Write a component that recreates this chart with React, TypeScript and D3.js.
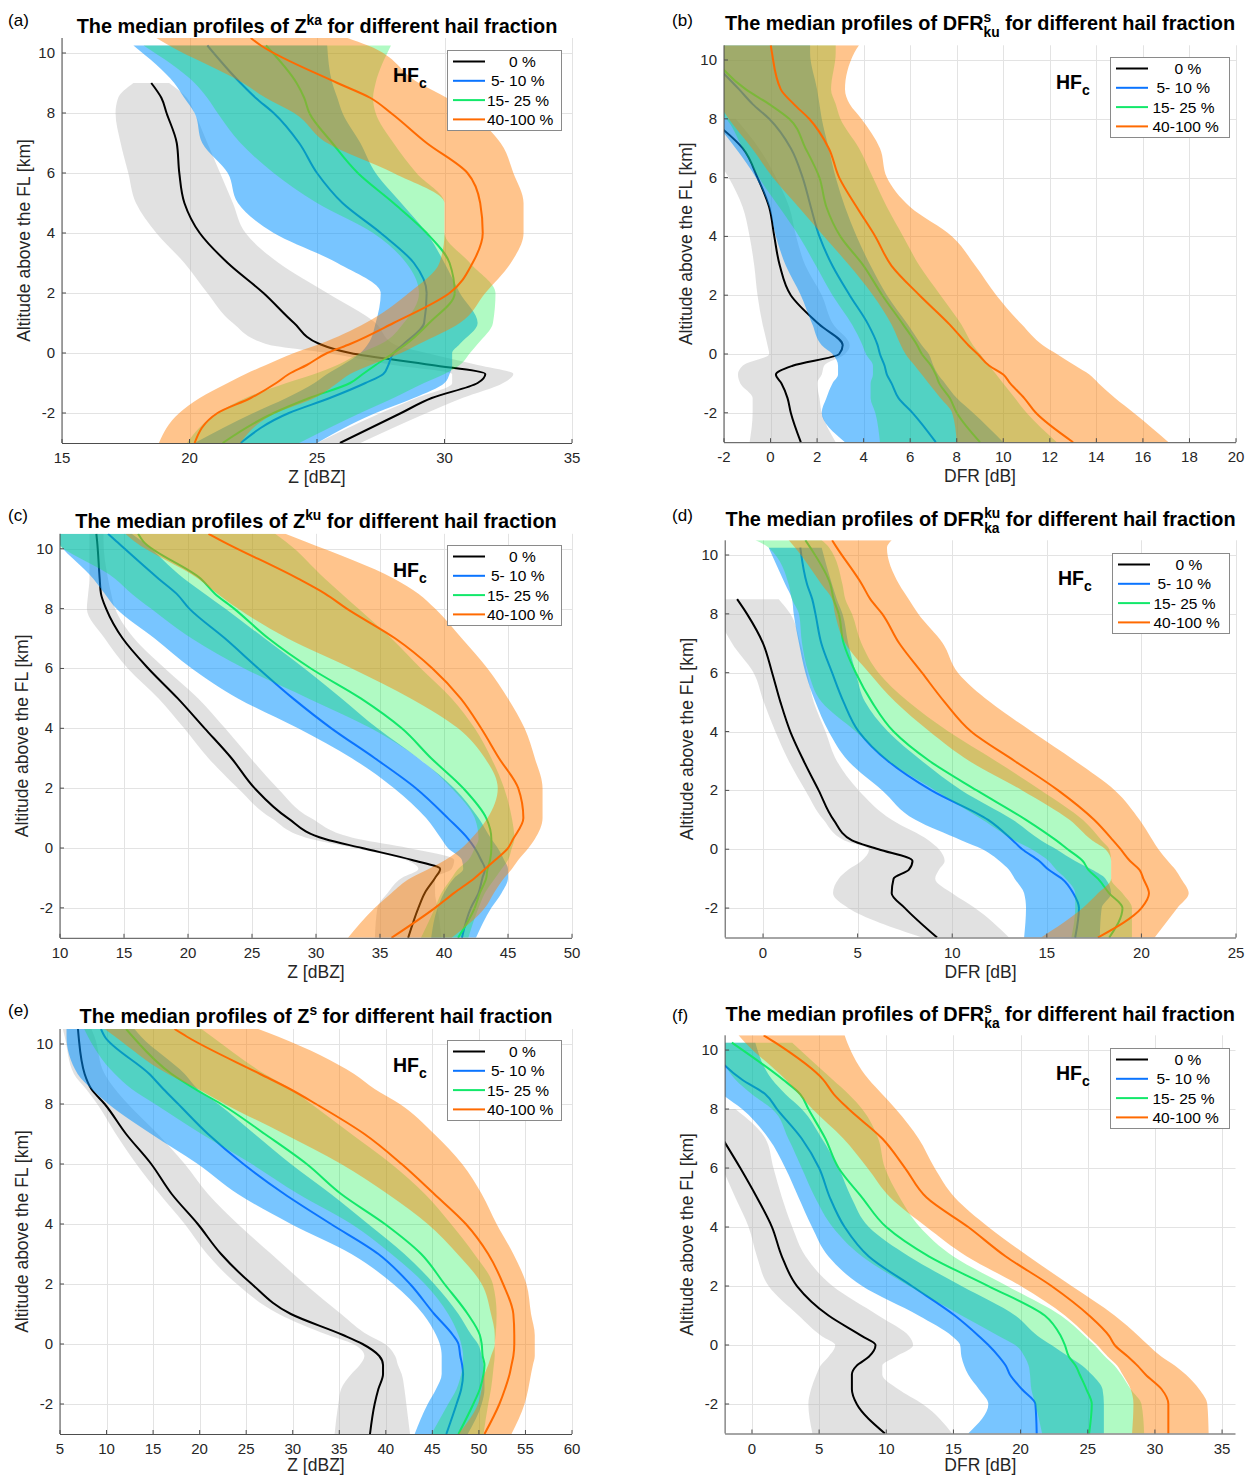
import React from 'react';
import * as d3 from 'd3';

// altitude levels above the freezing level [km], shared by every profile
const ALT = [-3, -2, -1.5, -1, -0.7, -0.4, 0, 0.3, 1, 2, 3, 4, 5, 6, 7, 8, 8.5, 9, 10.25, 10.5];

const SERIES = ['0 %', '5- 10 %', '15- 25 %', '40-100 %'];
const FILL = ['#b3b3b3', '#0091ff', '#00ef3d', '#ff7d00'];
const FILL_OP = [0.4, 0.53, 0.31, 0.45];
const LINE = ['#000000', '#0a74ff', '#12e86a', '#ff6a00'];

// each table: rows = 0 %, 5-10 %, 15-25 %, 40-100 %; columns follow ALT
// (a) Z ka
const A_MED = [
  [25.9, 28.3, 29.5, 31.3, 31.6, 29.5, 26.3, 25.1, 24.1, 22.9, 21.5, 20.4, 19.8, 19.6, 19.5, 19.1, 18.9, 18.5, null, null],
  [22.0, 23.9, 25.5, 26.9, 27.6, 27.8, 28.0, 28.4, 29.2, 29.3, 28.8, 27.5, 26.0, 25.0, 24.3, 23.3, 22.6, 22.0, 20.7, null],
  [21.3, 23.3, 24.7, 26.3, 26.8, 27.3, 28.0, 28.5, 29.4, 30.4, 30.2, 29.3, 28.0, 26.6, 25.6, 24.7, 24.5, 24.2, 23.0, null],
  [20.2, 21.1, 22.4, 23.4, 23.9, 24.6, 25.4, 26.3, 28.0, 30.2, 31.1, 31.5, 31.4, 30.9, 29.3, 27.9, 27.1, 25.8, 22.8, 22.4],
];
const A_LO = [
  [25.0, 27.5, 28.9, 30.3, 30.3, 28.0, 25.4, 23.0, 21.7, 20.7, 19.8, 18.7, 17.9, 17.6, 17.3, 17.1, 17.2, 17.8, null, null],
  [20.2, 22.5, 23.8, 24.9, 25.4, 26.0, 26.7, 27.0, 27.3, 27.5, 25.8, 23.3, 21.9, 21.5, 20.5, 20.2, 19.8, 19.4, 17.8, null],
  [19.9, 21.1, 22.2, 23.8, 24.9, 25.8, 26.7, 27.5, 28.4, 29.0, 28.5, 27.2, 25.0, 23.3, 22.0, 21.1, 20.7, 20.2, 18.2, null],
  [18.8, 19.6, 20.4, 21.5, 22.2, 23.0, 24.1, 25.1, 26.9, 28.6, 29.8, 30.0, 30.0, 28.0, 25.4, 24.1, 23.0, 22.1, 19.2, 18.7],
];
const A_HI = [
  [26.7, 29.3, 30.7, 32.3, 32.7, 31.3, 29.3, 28.0, 27.3, 25.4, 23.5, 22.2, 21.7, 21.2, 20.7, 20.2, 19.9, 19.2, null, null],
  [25.0, 27.3, 28.8, 30.0, 30.2, 30.3, 30.3, 30.6, 31.3, 30.6, 30.0, 29.3, 28.3, 27.3, 26.7, 26.0, 25.8, 25.6, 25.4, null],
  [24.3, 26.7, 28.0, 29.2, 30.0, 30.6, 31.0, 31.3, 31.9, 32.0, 31.0, 30.0, 30.0, 28.9, 28.0, 27.3, 27.2, 27.3, 27.9, null],
  [22.0, 23.4, 24.9, 25.8, 26.3, 27.1, 28.3, 29.0, 30.6, 31.6, 32.6, 33.1, 33.1, 32.7, 32.2, 31.0, 30.1, 29.0, 27.0, 26.2],
];

// (b) DFR s/ku
const B_MED = [
  [1.3, 0.87, 0.73, 0.47, 0.23, 0.95, 2.95, 3.1, 2.1, 0.87, 0.4, 0.16, -0.06, -0.56, -1.2, -2.6, null, null, null, null],
  [7.1, 6.1, 5.5, 5.2, 5.0, 4.9, 4.7, 4.6, 4.2, 3.4, 2.66, 2.1, 1.73, 1.38, 0.87, -0.06, -0.77, -1.35, -2.9, null],
  [9.0, 8.0, 7.7, 7.25, 7.1, 6.9, 6.5, 6.3, 5.7, 4.8, 4.0, 3.0, 2.4, 2.1, 1.5, 0.8, -0.06, -1.06, -2.6, null],
  [13.0, 11.4, 10.9, 10.3, 10.0, 9.4, 8.9, 8.5, 7.7, 6.4, 5.2, 4.5, 3.7, 2.95, 2.5, 1.66, 1.0, 0.44, 0.06, 0.01],
];
const B_LO = [
  [-0.9, -0.77, -0.77, -1.3, -1.4, -1.2, -0.06, -0.13, -0.34, -0.56, -0.7, -0.9, -1.2, -1.8, -2.6, -3.2, null, null, null, null],
  [3.2, 2.2, 2.4, 2.66, 2.9, 2.9, 2.66, 2.2, 1.8, 1.3, 0.66, 0.23, -0.06, -0.63, -1.5, -2.5, -3.0, -3.3, -4, -4],
  [4.7, 4.5, 4.3, 4.3, 4.4, 4.4, 4.1, 3.95, 3.5, 2.66, 1.95, 1.23, 0.37, -0.5, -1.2, -1.9, -2.5, -3, -4, -4],
  [8.0, 7.8, 7.3, 6.8, 6.5, 6.2, 5.8, 5.6, 5.2, 4.4, 3.4, 2.3, 1.2, 0.1, -0.8, -1.8, -2.2, -2.5, -3, -3],
];
const B_HI = [
  [2.8, 2.2, 2.1, 2.0, 2.2, 2.3, 3.2, 3.4, 2.7, 2.2, 1.5, 1.1, 0.8, 0.23, -0.5, -1.5, null, null, null, null],
  [10.0, 8.7, 8.0, 7.5, 7.2, 7.0, 6.8, 6.5, 5.9, 5.0, 4.3, 3.7, 3.2, 2.8, 2.5, 2.2, 2.1, 2.0, 1.7, 1.7],
  [12.3, 11.0, 10.5, 10.0, 9.7, 9.4, 9.0, 8.7, 8.2, 7.3, 6.4, 5.7, 5.0, 4.4, 3.8, 3.0, 2.8, 2.6, 2.8, 2.8],
  [17.1, 15.6, 14.8, 14.1, 13.7, 13.1, 12.3, 11.7, 10.8, 9.7, 8.8, 7.8, 6.0, 5.0, 4.7, 3.9, 3.4, 3.2, 3.6, 3.8],
];

// (c) Z ku
const C_MED = [
  [37.2, 38.0, 38.5, 39.3, 39.7, 37.5, 33.6, 30.7, 27.8, 25.2, 23.4, 21.3, 19.2, 16.9, 14.9, 13.6, 13.2, 13.1, 12.9, 12.84],
  [41.4, 42.1, 42.7, 43.0, 43.2, 42.9, 42.4, 41.9, 40.3, 37.8, 34.6, 31.2, 28.2, 25.5, 22.9, 20.1, 19.1, 17.7, 14.4, 13.75],
  [41.1, 42.4, 42.8, 43.3, 43.4, 43.6, 43.7, 43.7, 43.3, 41.5, 39.0, 36.7, 33.5, 29.6, 26.3, 23.6, 22.1, 21.0, 16.5, 16.1],
  [35.9, 39.3, 40.8, 42.4, 43.2, 44.0, 45.0, 45.4, 46.2, 45.8, 44.3, 42.9, 41.3, 39.1, 36.2, 32.4, 30.7, 28.6, 22.7, 21.6],
];
const C_LO = [
  [34.6, 34.8, 35.6, 36.7, 38.0, 37.0, 33.0, 29.6, 26.5, 23.9, 21.6, 19.7, 17.7, 15.3, 13.5, 12.1, 12.2, 12.3, 12.3, 12.3],
  [39.0, 39.5, 40.0, 40.8, 41.5, 41.4, 40.3, 39.8, 38.6, 36.1, 32.8, 28.6, 23.9, 20.3, 17.4, 14.4, 13.5, 12.6, 9.8, 9.5],
  [38.2, 39.3, 39.8, 40.6, 41.1, 41.9, 42.4, 42.7, 42.4, 40.6, 38.0, 34.3, 29.4, 24.4, 20.3, 17.1, 15.6, 14.3, 9.5, 9.0],
  [32.5, 34.6, 35.9, 37.4, 38.8, 40.1, 41.4, 42.1, 43.4, 44.2, 43.2, 41.1, 37.4, 32.8, 27.8, 23.9, 22.3, 20.8, 15.8, 15.1],
];
const C_HI = [
  [39.8, 39.5, 39.3, 39.3, 40.6, 40.8, 37.2, 33.3, 29.6, 27.0, 24.9, 22.9, 20.8, 18.2, 15.8, 14.3, 14.0, 13.75, 13.4, 13.4],
  [42.5, 43.7, 44.5, 45.0, 45.0, 44.7, 44.2, 43.7, 42.7, 40.8, 38.0, 34.8, 32.0, 29.1, 26.0, 22.9, 21.3, 19.7, 16.4, 15.6],
  [41.9, 42.7, 43.2, 44.0, 44.5, 45.0, 45.3, 45.5, 45.3, 44.7, 43.7, 42.4, 40.6, 38.2, 35.9, 33.3, 32.0, 30.7, 27.6, 26.8],
  [40.6, 43.2, 43.9, 44.7, 45.3, 45.8, 46.6, 47.1, 47.7, 47.7, 47.1, 46.3, 45.0, 43.4, 41.4, 39.3, 38.0, 36.1, 29.1, 27.6],
];

// (d) DFR ku/ka
const D_MED = [
  [9.2, 7.5, 6.8, 6.9, 7.7, 7.9, 6.1, 4.7, 3.73, 2.94, 2.15, 1.44, 0.92, 0.48, 0.0, -0.85, -1.37, null, null, null],
  [16.5, 16.7, 16.4, 15.8, 15.1, 14.6, 13.7, 13.2, 11.9, 8.9, 6.6, 5.06, 4.26, 3.65, 3.08, 2.77, 2.6, 2.33, 1.97, null],
  [18.3, 19.0, 18.3, 17.7, 17.2, 16.9, 16.1, 15.5, 13.9, 11.3, 8.8, 6.9, 5.76, 4.9, 4.26, 4.0, 3.73, 3.56, 2.5, 2.24],
  [17.7, 20.0, 20.4, 20.1, 19.9, 19.4, 18.9, 18.5, 17.5, 15.6, 13.3, 11.0, 9.6, 8.4, 7.2, 6.3, 5.67, 5.23, 3.9, 3.65],
];
const D_LO = [
  [8.4, 4.5, 3.7, 4.0, 4.5, 5.2, 5.6, 4.3, 3.2, 2.24, 1.36, 0.65, 0.04, -0.5, -1.64, -2.3, -2.3, null, null, null],
  [13.8, 13.9, 13.8, 13.3, 13.0, 12.5, 11.6, 10.5, 8.05, 6.3, 4.5, 3.47, 2.77, 2.24, 1.9, 1.62, 1.53, 1.18, 0.3, null],
  [16.3, 16.5, 16.5, 16.0, 15.5, 15.1, 14.2, 13.3, 11.6, 9.1, 6.6, 4.9, 3.1, 2.4, 2.06, 1.9, 1.53, 1.36, 0.3, -0.4],
  [14.7, 16.9, 17.7, 18.4, 18.4, 18.4, 18.1, 17.4, 16.2, 13.7, 10.9, 8.8, 7.0, 5.6, 4.35, 3.8, 3.65, 3.1, 1.7, 1.36],
];
const D_HI = [
  [13.0, 11.2, 10.0, 9.1, 9.3, 9.6, 9.3, 8.76, 6.8, 5.06, 3.9, 3.3, 2.68, 2.33, 1.97, 1.44, 0.83, null, null, null],
  [17.8, 17.9, 18.4, 18.1, 17.4, 16.5, 15.5, 14.7, 13.2, 10.5, 8.4, 6.6, 5.4, 4.9, 4.5, 4.2, 3.9, 3.65, 3.1, null],
  [19.5, 19.5, 19.0, 18.4, 18.4, 18.4, 18.3, 17.9, 16.9, 14.7, 12.3, 9.8, 7.7, 6.1, 5.2, 4.7, 4.35, 4.2, 3.5, 3.1],
  [20.7, 21.9, 22.5, 22.1, 21.8, 21.4, 20.9, 20.6, 19.9, 18.6, 16.5, 14.2, 12.0, 10.3, 9.5, 8.2, 7.7, 7.2, 6.55, 6.8],
];

// (e) Z s
const E_MED = [
  [38.3, 38.8, 39.2, 39.7, 39.7, 39.3, 37.5, 35.4, 29.8, 25.6, 22.3, 19.8, 17.0, 14.8, 12.1, 9.8, 8.37, 7.65, 7.0, 6.93],
  [46.5, 47.6, 48.1, 48.3, 48.2, 48.0, 47.8, 47.2, 45.2, 42.6, 39.2, 34.1, 29.1, 24.7, 20.9, 17.7, 16.1, 14.6, 9.8, 9.4],
  [47.8, 49.4, 50.1, 50.5, 50.6, 50.4, 50.3, 50.1, 48.8, 46.3, 43.8, 39.9, 35.2, 31.5, 27.0, 22.3, 19.5, 17.0, 12.8, 12.1],
  [50.6, 52.2, 52.8, 53.3, 53.5, 53.7, 53.8, 53.8, 53.7, 52.6, 51.0, 48.6, 45.2, 41.7, 37.7, 32.5, 29.7, 26.5, 18.6, 17.3],
];
const E_LO = [
  [34.5, 34.9, 35.2, 36.3, 37.2, 37.7, 36.5, 33.8, 28.5, 24.0, 20.8, 18.4, 15.7, 13.2, 11.0, 9.0, 7.8, 6.5, 5.5, 5.3],
  [43.1, 44.5, 45.4, 46.0, 46.0, 46.0, 45.8, 45.4, 44.0, 40.8, 36.3, 29.8, 24.1, 19.8, 14.8, 10.2, 8.4, 6.9, 5.7, 5.7],
  [44.9, 46.7, 47.6, 48.1, 48.3, 48.3, 48.1, 47.8, 46.7, 44.2, 40.6, 36.3, 30.6, 25.6, 20.2, 15.2, 12.7, 10.9, 8.0, 7.6],
  [47.8, 49.9, 50.3, 50.6, 51.0, 51.3, 51.7, 51.7, 51.3, 50.3, 47.7, 44.5, 40.2, 35.2, 29.1, 22.7, 19.8, 16.6, 10.9, 9.8],
];
const E_HI = [
  [42.6, 42.2, 42.0, 41.7, 41.3, 41.0, 39.9, 38.1, 35.2, 31.3, 27.7, 24.1, 20.9, 18.4, 15.5, 12.3, 10.9, 9.8, 8.7, 8.37],
  [48.8, 50.3, 50.6, 50.6, 50.5, 50.3, 49.9, 49.2, 47.8, 45.2, 42.0, 38.1, 34.1, 29.8, 25.9, 22.0, 19.8, 18.4, 13.7, 13.0],
  [50.5, 51.0, 51.3, 51.5, 51.6, 51.7, 51.7, 51.8, 51.9, 51.5, 49.5, 47.0, 44.2, 40.6, 36.3, 32.0, 29.8, 27.0, 21.3, 20.2],
  [53.5, 54.9, 55.3, 55.6, 55.8, 56.0, 56.0, 56.0, 55.6, 55.1, 53.7, 51.9, 50.3, 48.2, 45.2, 41.5, 38.8, 36.6, 28.4, 26.3],
];

// (f) DFR s/ka
const F_MED = [
  [9.9, 7.8, 7.44, 7.44, 7.8, 8.7, 9.2, 8.2, 5.7, 3.35, 2.23, 1.49, 0.37, -0.87, -2.2, null, null, null, null, null],
  [21.2, 21.1, 20.1, 19.2, 18.9, 18.4, 17.6, 16.9, 15.1, 11.9, 8.7, 6.9, 5.8, 5.0, 3.7, 1.86, 1.0, -0.75, -3.5, null],
  [25.1, 25.3, 24.9, 24.4, 24.1, 23.6, 23.3, 23.0, 21.8, 17.6, 13.2, 10.0, 8.2, 6.45, 5.46, 4.2, 3.6, 2.3, -1.5, null],
  [31.0, 31.0, 30.5, 29.3, 28.7, 28.0, 27.0, 26.6, 25.1, 22.3, 18.9, 16.1, 13.0, 11.4, 9.7, 7.2, 6.1, 5.3, 1.74, 0.87],
];
const F_LO = [
  [4.5, 4.2, 4.4, 4.8, 5.1, 5.7, 6.2, 5.2, 3.47, 1.24, 0.37, -0.25, -1.24, -2.2, -3, -3, null, null, null, null],
  [16.1, 17.6, 16.9, 16.1, 15.8, 15.6, 15.5, 14.9, 12.4, 8.2, 5.7, 4.47, 3.47, 2.48, 1.24, -0.74, -2.2, -3, -4, null],
  [21.6, 21.1, 20.8, 20.7, 20.6, 20.3, 19.6, 18.4, 15.6, 11.7, 8.2, 6.0, 4.7, 3.7, 2.7, 1.5, 0.0, -1.24, -2.5, null],
  [28.3, 28.4, 28.2, 27.6, 27.2, 26.5, 25.7, 25.0, 23.3, 20.0, 16.0, 13.0, 10.3, 8.6, 6.8, 4.5, 3.5, 2.5, -0.5, -1.0],
];
const F_HI = [
  [14.9, 12.7, 10.9, 9.7, 9.7, 10.7, 12.0, 11.7, 9.4, 6.0, 4.0, 3.0, 2.23, 1.6, 1.0, -1.24, null, null, null, null],
  [26.2, 26.2, 26.1, 25.3, 24.6, 23.6, 22.3, 21.3, 19.6, 15.6, 11.7, 8.7, 7.4, 6.45, 5.2, 3.7, 2.5, 1.5, 0.25, null],
  [29.2, 29.0, 28.2, 27.5, 27.0, 26.3, 25.5, 24.8, 23.0, 19.0, 15.0, 12.5, 11.0, 9.9, 9.4, 8.2, 7.2, 6.0, 3.0, null],
  [34.0, 33.9, 33.3, 32.3, 31.5, 30.5, 29.5, 28.8, 27.0, 23.8, 20.6, 17.6, 15.1, 13.6, 12.4, 10.7, 9.7, 8.7, 7.1, 6.9],
];

const FONT = "'Liberation Sans', Arial, Helvetica, sans-serif";
const TXT = '#262626';

const PANELS = [
  { id: 'a', med: A_MED, lo: A_LO, hi: A_HI, dom: [15, 35], ticks: [15, 20, 25, 30, 35], left: 62, right: 572, top: 38, bottom: 443,
    lab: [8, 26], titleY: 33, sym: 'Z', sup: 'ka', sub: '', xLabel: 'Z [dBZ]', xLabY: 40, leg: [447, 50, 114] },
  { id: 'b', med: B_MED, lo: B_LO, hi: B_HI, dom: [-2, 20], ticks: d3.range(-2, 21, 2), left: 724, right: 1236, top: 45.3, bottom: 442.2,
    lab: [672, 26], titleY: 30, sym: 'DFR', sup: 's', sub: 'ku', xLabel: 'DFR [dB]', xLabY: 40, leg: [1110, 57, 119] },
  { id: 'c', med: C_MED, lo: C_LO, hi: C_HI, dom: [10, 50], ticks: d3.range(10, 51, 5), left: 60, right: 572, top: 533.8, bottom: 937.8,
    lab: [8, 521], titleY: 528, sym: 'Z', sup: 'ku', sub: '', xLabel: 'Z [dBZ]', xLabY: 40, leg: [447, 545, 114] },
  { id: 'd', med: D_MED, lo: D_LO, hi: D_HI, dom: [-2, 25], ticks: d3.range(0, 26, 5), left: 725.2, right: 1236, top: 540.3, bottom: 937.5,
    lab: [672, 521], titleY: 526, sym: 'DFR', sup: 'ku', sub: 'ka', xLabel: 'DFR [dB]', xLabY: 40, leg: [1112, 553, 117] },
  { id: 'e', med: E_MED, lo: E_LO, hi: E_HI, dom: [5, 60], ticks: d3.range(5, 61, 5), left: 60, right: 572, top: 1029, bottom: 1434,
    lab: [8, 1016], titleY: 1023, sym: 'Z', sup: 's', sub: '', xLabel: 'Z [dBZ]', xLabY: 37, leg: [447, 1040, 114] },
  { id: 'f', med: F_MED, lo: F_LO, hi: F_HI, dom: [-2, 36], ticks: d3.range(0, 36, 5), left: 725.1, right: 1235.5, top: 1035.3, bottom: 1433.5,
    lab: [672, 1021], titleY: 1021, sym: 'DFR', sup: 's', sub: 'ka', xLabel: 'DFR [dB]', xLabY: 37, leg: [1110, 1048, 119] },
];

// rough bold-Arial advance widths for the small script letters
const SMALL = 13.8;
const TITLE = 19.9;
const charW: Record<string, number> = { k: 0.556, u: 0.611, a: 0.556, s: 0.556 };
const wOf = (s: string) => s.split('').reduce((t, c) => t + (charW[c] || 0.56) * SMALL, 0);

function Title({ p }: any) {
  const cx = (p.left + p.right) / 2;
  if (!p.sub) {
    return (
      <text x={cx} y={p.titleY} textAnchor="middle" fontFamily={FONT} fontWeight="bold" fontSize={TITLE} fill="#000">
        The median profiles of {p.sym}
        <tspan fontSize={SMALL} dy={-8}>{p.sup}</tspan>
        <tspan dy={8}>{' for different hail fraction'}</tspan>
      </text>
    );
  }
  const ws = wOf(p.sub), wp = wOf(p.sup);
  return (
    <text x={cx} y={p.titleY} textAnchor="middle" fontFamily={FONT} fontWeight="bold" fontSize={TITLE} fill="#000">
      The median profiles of {p.sym}
      <tspan fontSize={SMALL} dy={7}>{p.sub}</tspan>
      <tspan fontSize={SMALL} dx={-ws} dy={-15}>{p.sup}</tspan>
      <tspan dx={Math.max(ws, wp) - wp} dy={8}>{' for different hail fraction'}</tspan>
    </text>
  );
}

function Panel({ p }: any) {
  const x = d3.scaleLinear().domain(p.dom).range([p.left, p.right]);
  const y = d3.scaleLinear().domain([-3, 10.5]).range([p.bottom, p.top]);
  const idx = d3.range(ALT.length);
  const yTicks = d3.range(-2, 11, 2);

  const band = (lo: any[], hi: any[]) =>
    d3.area<number>()
      .defined(i => lo[i] != null && hi[i] != null)
      .y(i => y(ALT[i]))
      .x0(i => x(lo[i]))
      .x1(i => x(hi[i]))
      .curve(d3.curveMonotoneY)(idx) || '';
  const line = (m: any[]) =>
    d3.line<number>()
      .defined(i => m[i] != null)
      .x(i => x(m[i]))
      .y(i => y(ALT[i]))
      .curve(d3.curveMonotoneY)(idx) || '';

  const clip = `clip-${p.id}`;
  const [lx, ly, lw] = p.leg;
  const textOff = [62, 44, 40, 40].map(o => o + (lw - 114) * 0.5);

  return (
    <g>
      <defs>
        <clipPath id={clip}>
          <rect x={p.left} y={p.top} width={p.right - p.left} height={p.bottom - p.top} />
        </clipPath>
      </defs>

      {/* grid */}
      {p.ticks.map((t: number) => (
        <line key={'gx' + t} x1={Math.round(x(t)) + 0.5} x2={Math.round(x(t)) + 0.5} y1={p.top} y2={p.bottom} stroke="#e3e3e3" />
      ))}
      {yTicks.map(t => (
        <line key={'gy' + t} x1={p.left} x2={p.right} y1={Math.round(y(t)) + 0.5} y2={Math.round(y(t)) + 0.5} stroke="#e3e3e3" />
      ))}

      {/* bands and median lines, drawn series by series */}
      <g clipPath={`url(#${clip})`}>
        {SERIES.map((s, k) => (
          <g key={s}>
            <path d={band(p.lo[k], p.hi[k])} fill={FILL[k]} fillOpacity={FILL_OP[k]} stroke="none" />
            <path d={line(p.med[k])} fill="none" stroke={LINE[k]} strokeWidth={2} strokeLinejoin="round" />
          </g>
        ))}
      </g>

      {/* axes */}
      <line x1={p.left} x2={p.left} y1={p.top} y2={p.bottom} stroke="#4d4d4d" />
      <line x1={p.left} x2={p.right} y1={p.bottom + 0.5} y2={p.bottom + 0.5} stroke="#4d4d4d" />
      {p.ticks.map((t: number) => (
        <g key={'tx' + t}>
          <line x1={x(t)} x2={x(t)} y1={p.bottom} y2={p.bottom - 4} stroke="#4d4d4d" />
          <text x={x(t)} y={p.bottom + 20} textAnchor="middle" fontFamily={FONT} fontSize={15} fill={TXT}>{t}</text>
        </g>
      ))}
      {yTicks.map(t => (
        <g key={'ty' + t}>
          <line x1={p.left} x2={p.left + 4} y1={y(t)} y2={y(t)} stroke="#4d4d4d" />
          <text x={p.left - 7} y={y(t) + 5} textAnchor="end" fontFamily={FONT} fontSize={15} fill={TXT}>{t}</text>
        </g>
      ))}
      <text x={(p.left + p.right) / 2} y={p.bottom + p.xLabY} textAnchor="middle" fontFamily={FONT} fontSize={17.5} fill={TXT}>{p.xLabel}</text>
      <text transform={`translate(${p.left - 32},${(p.top + p.bottom) / 2}) rotate(-90)`} textAnchor="middle"
        fontFamily={FONT} fontSize={17.5} fill={TXT}>Altitude above the FL [km]</text>

      <Title p={p} />
      <text x={p.lab[0]} y={p.lab[1]} fontFamily={FONT} fontSize={17} fill="#000">({p.id})</text>

      {/* legend */}
      <rect x={lx + 0.5} y={ly + 0.5} width={lw} height={80} fill="#fff" stroke="#8a8a8a" />
      {SERIES.map((s, k) => {
        const cy = ly + 11.5 + k * 19.3;
        return (
          <g key={'lg' + s}>
            <line x1={lx + 6} x2={lx + 38} y1={cy} y2={cy} stroke={LINE[k]} strokeWidth={2} />
            <text x={lx + textOff[k]} y={cy + 5.5} fontFamily={FONT} fontSize={15.5} fill="#000">{s}</text>
          </g>
        );
      })}
      <text x={lx - 54} y={ly + 32} fontFamily={FONT} fontWeight="bold" fontSize={19.5} fill="#000">
        HF<tspan fontSize={14} dy={6}>c</tspan>
      </text>
    </g>
  );
}

export default function App() {
  return (
    <svg width={1245} height={1477} viewBox="0 0 1245 1477"
      style={{ position: 'absolute', left: 0, top: 0, background: '#fff' }}>
      <rect width={1245} height={1477} fill="#fff" />
      {PANELS.map(p => <Panel key={p.id} p={p} />)}
    </svg>
  );
}
